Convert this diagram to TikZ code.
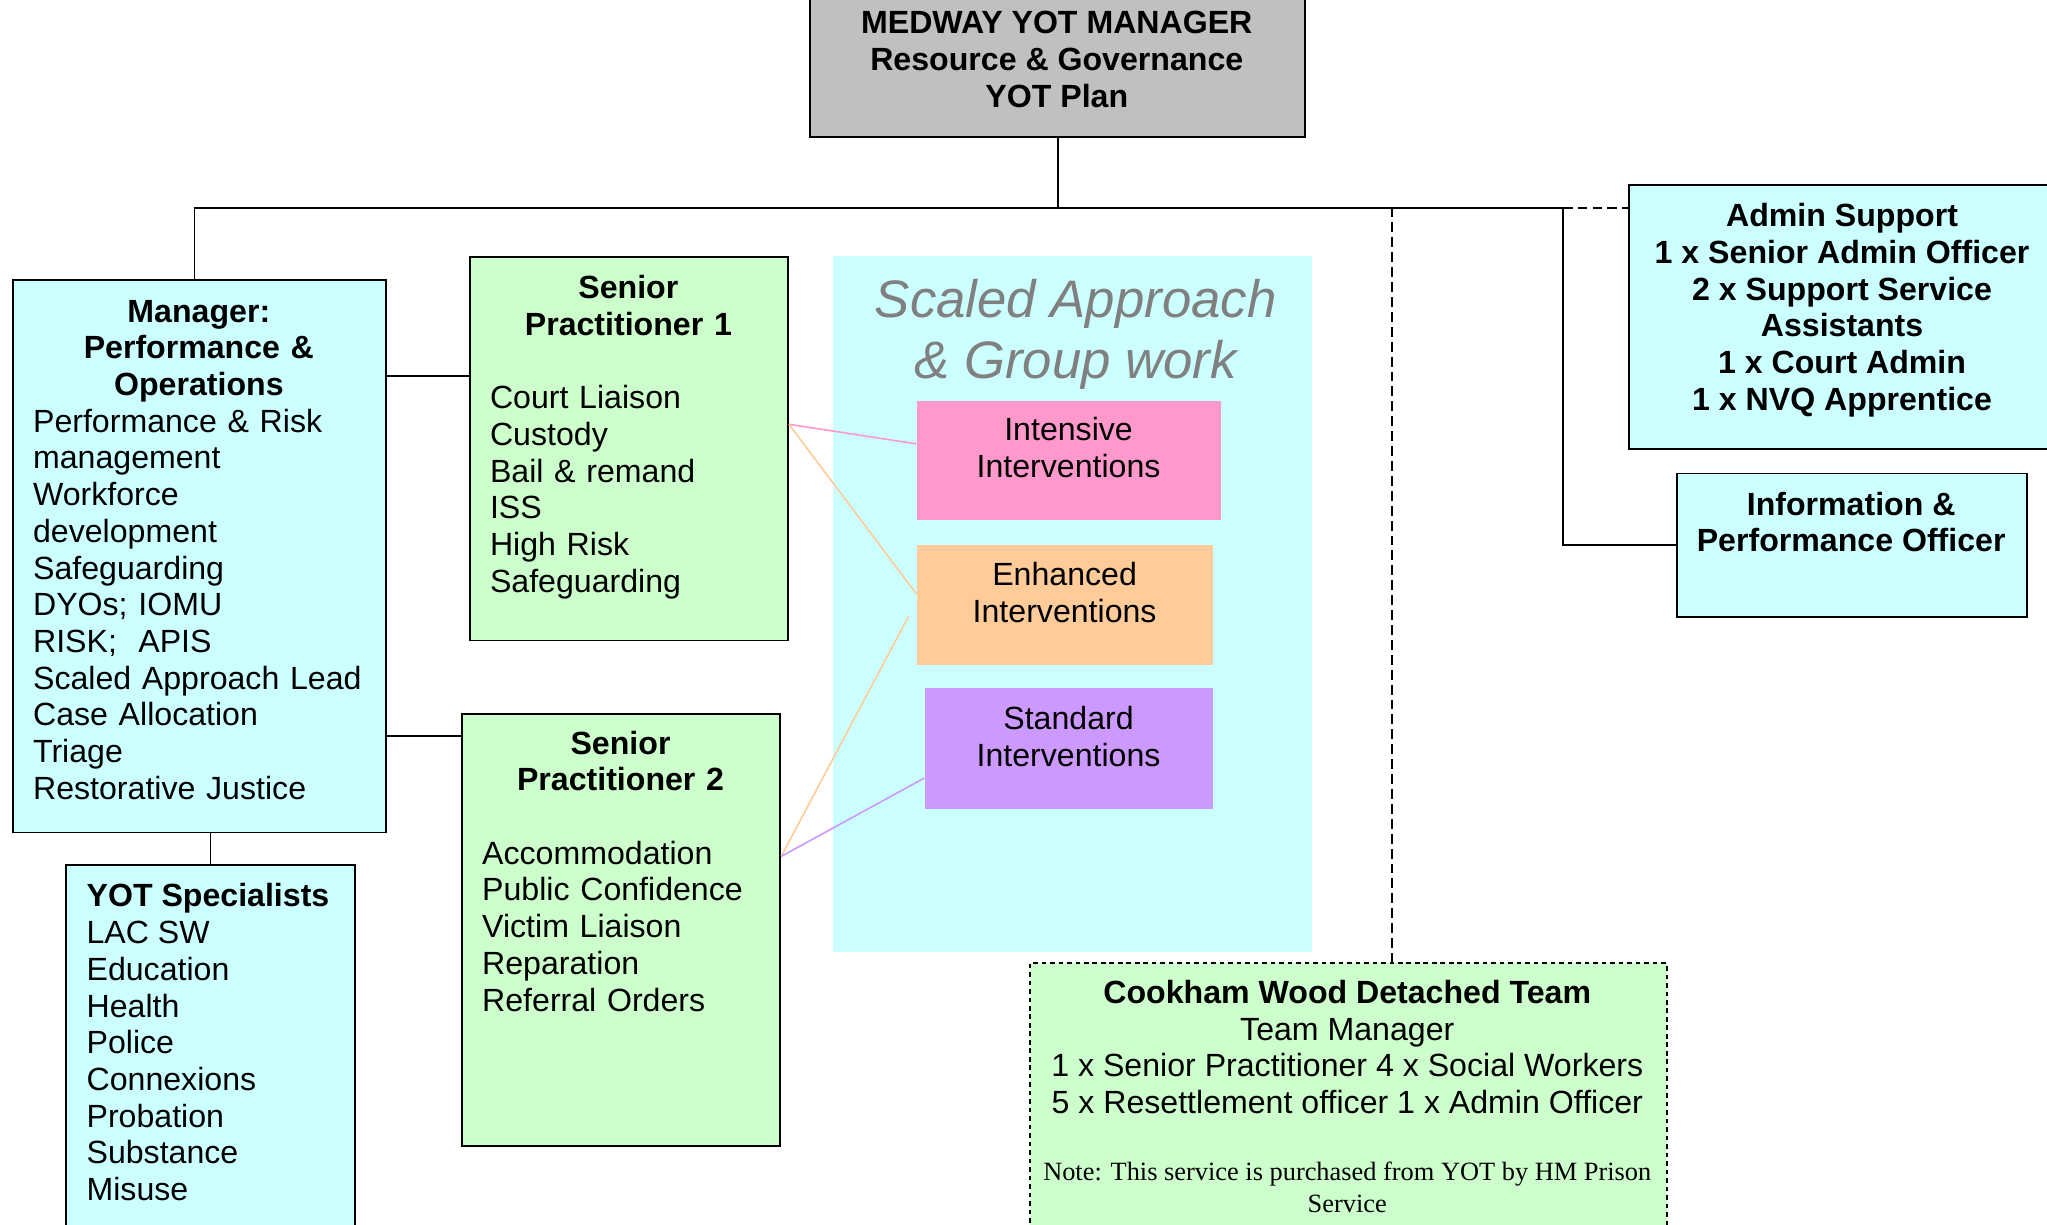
\documentclass[tikz,border=0pt]{standalone}
\usepackage{fontspec}
\setmainfont{Liberation Sans}
\newfontfamily\notefont{Liberation Serif}
\setlength{\parindent}{0pt}
\usetikzlibrary{positioning}

\definecolor{yotcyan}{HTML}{CCFFFF}
\definecolor{yotgreen}{HTML}{CCFFCC}
\definecolor{yotgray}{HTML}{C0C0C0}
\definecolor{intpink}{HTML}{FF99CC}
\definecolor{enhorange}{HTML}{FFCC99}
\definecolor{stdpurple}{HTML}{CC99FF}
\definecolor{titlegray}{HTML}{808080}

\begin{document}
\begin{tikzpicture}[x=0.02cm,y=-0.02cm,
  box/.style={draw,line width=0.8pt,inner sep=0pt,anchor=north west},
  band/.style={inner sep=0pt,anchor=north west},
  txt/.style={inner sep=0pt,font=\fontsize{14pt}{16pt}\selectfont},
  head/.style={inner sep=0pt,font=\fontsize{14pt}{16pt}\selectfont\bfseries},
  link/.style={line width=0.8pt},
  feed/.style={line width=0.7pt},
  cut/.style={dash pattern=on 4.3pt off 2.2pt},
  cutbox/.style={dash pattern=on 2pt off 1.7pt}]

\useasboundingbox (0,0) rectangle (1568,938);
\clip (0,0) rectangle (1568,938);

\node[box,fill=yotgray,minimum width=7.58cm,minimum height=2.18cm] (yotmgr) at (620,-5) {};
\node[head,anchor=north,align=center] (yotmgrtext) at (809.5,8.5)
	{MEDWAY YOT MANAGER\\Resource \& Governance\\YOT Plan};

\node[box,fill=yotcyan,minimum width=5.72cm,minimum height=8.46cm] (perfmgr) at (9,214) {};
\node[txt,anchor=north west,text width=5.08cm,align=left] (perfmgrtext) at (25,229.5)
	{{\centering\bfseries Manager:\\Performance \&\\Operations\par}
	Performance \& Risk\\management\\Workforce\\development\\Safeguarding\\DYOs; IOMU\\RISK;\ \ APIS\\Scaled Approach Lead\\Case Allocation\\Triage\\Restorative Justice};

\node[box,fill=yotgreen,minimum width=4.88cm,minimum height=5.88cm] (senior1) at (359,196) {};
\node[txt,anchor=north west,text width=4.24cm,align=left] (senior1text) at (375,210.5)
	{{\centering\bfseries Senior\\Practitioner 1\par}\vspace{16pt}
	Court Liaison\\Custody\\Bail \& remand\\ISS\\High Risk\\Safeguarding};

\node[box,fill=yotgreen,minimum width=4.88cm,minimum height=6.62cm] (senior2) at (353,546) {};
\node[txt,anchor=north west,text width=4.24cm,align=left] (senior2text) at (369,559.5)
	{{\centering\bfseries Senior\\Practitioner 2\par}\vspace{16pt}
	Accommodation\\Public Confidence\\Victim Liaison\\Reparation\\Referral Orders};

\node[box,fill=yotcyan,minimum width=4.42cm,minimum height=5.8cm] (specialists) at (50,662) {};
\node[txt,anchor=north west,align=left] (specialiststext) at (66,676.5)
	{\textbf{YOT Specialists}\\LAC SW\\Education\\Health\\Police\\Connexions\\Probation\\Substance\\Misuse};

\node[band,fill=yotcyan,minimum width=7.34cm,minimum height=10.66cm] (scaled) at (638,196) {};
\node[inner sep=0pt,anchor=north,align=center,text=titlegray,font=\fontsize{23pt}{26.6pt}\selectfont\itshape] (scaledtext) at (824,213.5)
	{Scaled Approach\\\& Group work};

\node[band,fill=intpink,minimum width=4.66cm,minimum height=1.82cm] (intensive) at (702,307) {};
\node[txt,anchor=north,align=center] (intensivetext) at (818.5,319.5) {Intensive\\Interventions};

\node[band,fill=enhorange,minimum width=4.54cm,minimum height=1.84cm] (enhanced) at (702,417) {};
\node[txt,anchor=north,align=center] (enhancedtext) at (815.5,430.5) {Enhanced\\Interventions};

\node[band,fill=stdpurple,minimum width=4.42cm,minimum height=1.84cm] (standard) at (708,527) {};
\node[txt,anchor=north,align=center] (standardtext) at (818.5,540.5) {Standard\\Interventions};

\node[box,fill=yotcyan,minimum width=6.7cm,minimum height=4.04cm] (admin) at (1247,141) {};
\node[head,anchor=north,align=center] (admintext) at (1411,155.5)
	{Admin Support\\1 x Senior Admin Officer\\2 x Support Service\\Assistants\\1 x Court Admin\\1 x NVQ Apprentice};

\node[box,fill=yotcyan,minimum width=5.36cm,minimum height=2.2cm] (info) at (1284,362) {};
\node[head,anchor=north,align=center] (infotext) at (1418,376.5) {Information \&\\Performance Officer};

\node[box,cutbox,fill=yotgreen,minimum width=9.76cm,minimum height=4.4cm] (cookham) at (788,737) {};
\node[txt,anchor=north,align=center] (cookhamtext) at (1032,750.5)
	{\textbf{Cookham Wood Detached Team}\\Team Manager\\1 x Senior Practitioner 4 x Social Workers\\5 x Resettlement officer 1 x Admin Officer};
\node[inner sep=0pt,anchor=north,align=center,font=\notefont\fontsize{11.5pt}{13.6pt}\selectfont] (cookhamnote) at (1032,890)
	{Note: This service is purchased from YOT by HM Prison\\Service};

\coordinate (busleft) at (149,159);
\coordinate (busright) at (1197,159);
\coordinate (cookhamdrop) at (1066,159);
\coordinate (enhancedgap) at (696,472);

\draw[link] (yotmgr.south) -- (yotmgr.south |- busleft);
\draw[link] (perfmgr.north -| busleft) -- (busleft) -- (busright) |- (info.west);
\draw[link,cut] (busright) -- (admin.west |- busright);
\draw[link,cut] (cookhamdrop) -- (cookhamdrop |- cookham.north);
\draw[link] (perfmgr.east |- 0,288) -- (senior1.west |- 0,288);
\draw[link] (perfmgr.east |- 0,564) -- (senior2.west |- 0,564);
\draw[link] (specialists.north) -- (specialists.north |- perfmgr.south);

\draw[feed,intpink] (senior1.east |- 0,325) -- (intensive.west |- 0,340);
\draw[feed,enhorange] (senior1.east |- 0,325) -- (enhanced.west |- 0,455);
\draw[feed,enhorange] (senior2.east |- 0,656) -- (enhancedgap);
\draw[feed,stdpurple] (senior2.east |- 0,656) -- (standard.west |- 0,596);

\end{tikzpicture}
\end{document}
